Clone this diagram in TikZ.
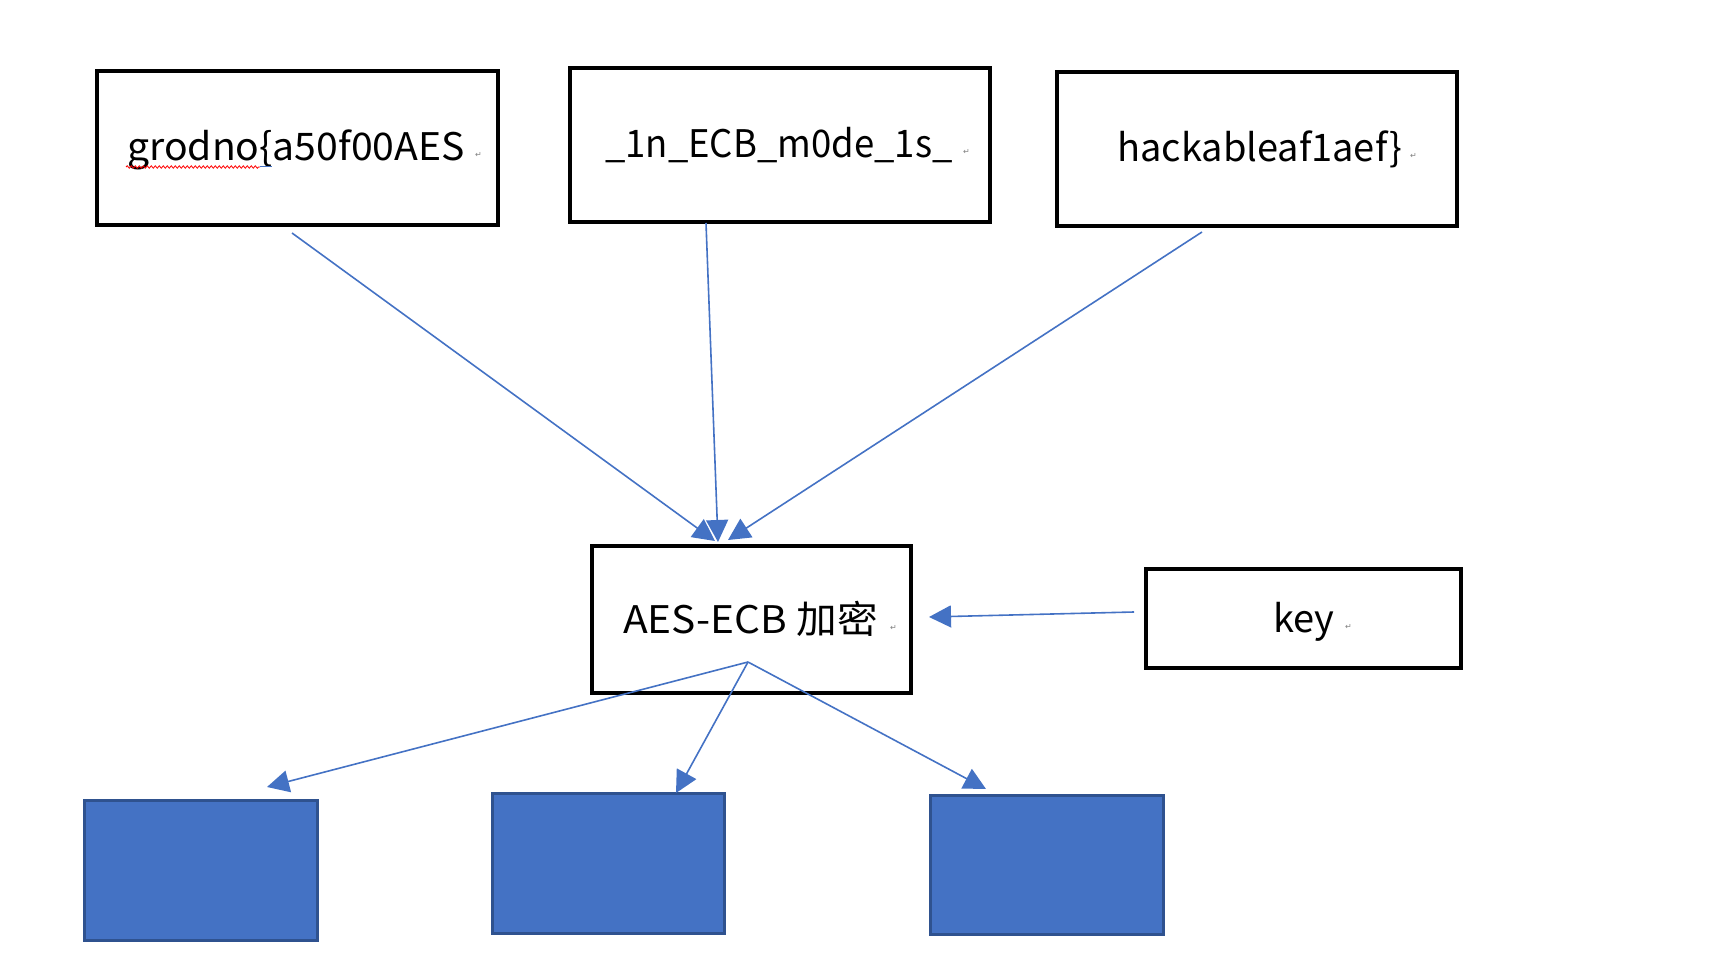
\documentclass[tikz,border=0pt]{standalone}
\usepackage{graphicx}
\usepackage{fontspec}
\setmainfont{Noto Sans CJK SC}
\newfontfamily\symfont{DejaVu Sans}
\usetikzlibrary{arrows.meta,decorations.pathmorphing}
\definecolor{lineblue}{HTML}{4472C4}
\definecolor{edgeblue}{HTML}{2F528F}
\tikzset{
  x=1pt, y=-1pt,
  blackbox/.style={draw=black, line width=4pt, fill=white, inner sep=0pt, anchor=north west},
  bluebox/.style={draw=edgeblue, line width=3pt, fill=lineblue, inner sep=0pt, anchor=north west},
  label text/.style={anchor=base west, inner sep=0pt, font=\fontsize{38}{40}\selectfont},
  retmark/.style={anchor=base west, inner sep=0pt, text=gray, font=\symfont\fontsize{8}{9}\selectfont},
  conn/.style={draw=lineblue, line width=1.6pt, -{Triangle[length=22pt,width=22pt]}},
}
\begin{document}
\begin{tikzpicture}
\useasboundingbox (0,0) rectangle (1727,957);
% input boxes
\node[blackbox, minimum width=401pt, minimum height=154pt] (b1) at (94.5,69) {};
\node[blackbox, minimum width=420pt, minimum height=154pt] (b2) at (568,66) {};
\node[blackbox, minimum width=400pt, minimum height=154pt] (b3) at (1055,70) {};
\node[blackbox, minimum width=319pt, minimum height=147pt] (aes) at (590,544) {};
\node[blackbox, minimum width=315pt, minimum height=99pt] (key) at (1144,567) {};
% output boxes
\node[bluebox, minimum width=233pt, minimum height=140pt] (o1) at (83,798.5) {};
\node[bluebox, minimum width=232pt, minimum height=140pt] (o2) at (491,791.5) {};
\node[bluebox, minimum width=233pt, minimum height=139pt] (o3) at (928.5,794) {};
% texts
\node[label text] (t1) at (127,161) {\scalebox{1.03}[1]{grodno\{a50f00AES}};
\node[label text] (t2) at (605,158) {\scalebox{0.96}[1]{\_1n\_ECB\_m0de\_1s\_}};
\node[label text] (t3) at (1117,162) {hackableaf1aef\}};
\node[label text] (t4) at (623,633) {\scalebox{1.07}[1]{AES-ECB 加密}};
\node[label text] (t5) at (1273,632) {key};
\node[retmark] (r1) at (475,158) {↵};
\node[retmark] (r2) at (963,155) {↵};
\node[retmark] (r3) at (1410,159) {↵};
\node[retmark] (r4) at (890,630) {↵};
\node[retmark] (r5) at (1345,629) {↵};
% spelling underline
\coordinate (u1) at (126,167);
\coordinate (u2) at (260,167);
\coordinate (u3) at (272,167);
\draw[red, line width=0.8pt, decorate, decoration={snake, amplitude=1.2pt, segment length=4pt}] (u1) -- (u2);
\draw[lineblue, line width=1pt] (u2) -- (u3);
% connector end points
\coordinate (s1) at (292,233);
\coordinate (s2) at (706,223);
\coordinate (s3) at (1202,232);
\coordinate (e1) at (715,541);
\coordinate (e2) at (718,542);
\coordinate (e3) at (728,540);
\coordinate (ks) at (1134,612);
\coordinate (ke) at (929,617);
\coordinate (src) at (748,662);
\coordinate (d1) at (267,787);
\coordinate (d2) at (676,793);
\coordinate (d3) at (986,789);
% connectors
\draw[conn] (s1) -- (e1);
\draw[conn] (s2) -- (e2);
\draw[conn] (s3) -- (e3);
\draw[conn] (ks) -- (ke);
\draw[conn] (src) -- (d1);
\draw[conn] (src) -- (d2);
\draw[conn] (src) -- (d3);
\end{tikzpicture}
\end{document}
